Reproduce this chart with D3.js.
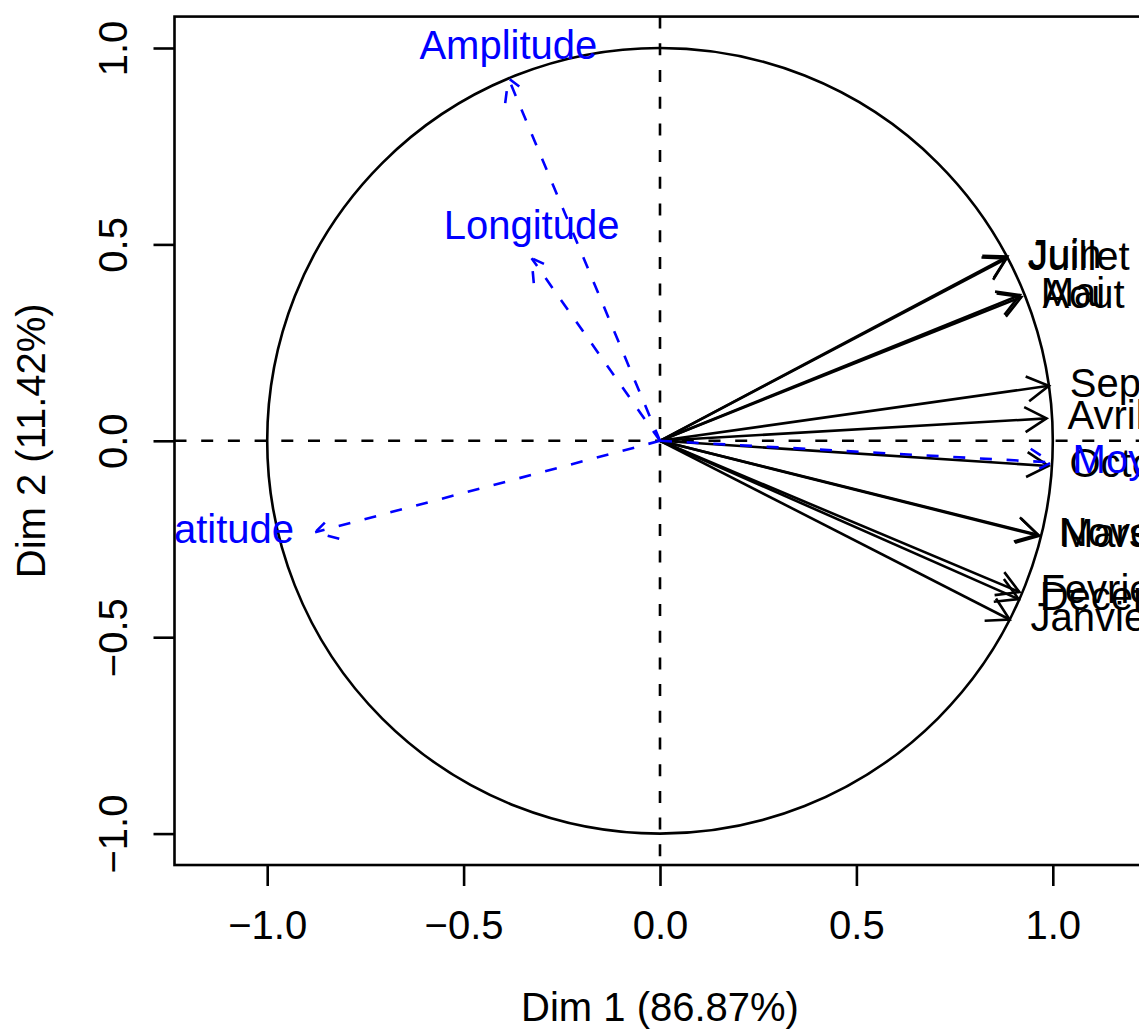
<!DOCTYPE html>
<html>
<head>
<meta charset="utf-8">
<script src="https://cdn.jsdelivr.net/npm/d3@7"></script>
<style>
  html, body { margin: 0; padding: 0; background: #fff; }
  svg { display: block; font-family: "Liberation Sans", Arial, Helvetica, sans-serif; }
</style>
</head>
<body>
<div id="chart"></div>
<script>
// Active variables (months), coordinates on Dim 1 / Dim 2
const monthNames = ['Janvier', 'Fevrier', 'Mars', 'Avril', 'Mai', 'Juin', 'Juillet',
  'Aout', 'Septembre', 'Octobre', 'Novembre', 'Decembre'];
const monthDim1 = [0.890, 0.915, 0.965, 0.984, 0.916, 0.884, 0.882, 0.920, 0.990, 0.989, 0.962, 0.913];
const monthDim2 = [-0.455, -0.385, -0.242, 0.057, 0.371, 0.469, 0.464, 0.366, 0.140, -0.064, -0.239, -0.403];

// Supplementary variables (drawn dashed, in blue)
const suppNames = ['Moyenne', 'Amplitude', 'Latitude', 'Longitude'];
const suppDim1 = [0.997, -0.386, -0.878, -0.327];
const suppDim2 = [-0.055, 0.923, -0.233, 0.465];
const suppLabelSide = ['right', 'above', 'left', 'above'];

const tickValues = [-1, -0.5, 0, 0.5, 1];
const xTitle = 'Dim 1 (86.87%)';
const yTitle = 'Dim 2 (11.42%)';

(function(){
  const width = 1139, height = 1030;
  const fontSize = 40;
  const lw = 2.6;
  const dash = '12 14.7';
  const headLen = 25;
  const labelGap = 21;

  // Same unit length on both axes (asp = 1)
  const x = d3.scaleLinear().domain([-1, 1]).range([267.2, 1052.8]);
  const y = d3.scaleLinear().domain([-1, 1]).range([833.6, 48.0]);
  const xlim = [-1.236, 1.236];
  const ylim = [-1.08, 1.08];

  const box = {
    left: x(xlim[0]), right: x(xlim[1]),
    top: y(ylim[1]), bottom: y(ylim[0])
  };

  const svg = d3.select('#chart').append('svg')
    .attr('width', width)
    .attr('height', height);

  svg.append('defs').append('clipPath').attr('id', 'plot-clip')
    .append('rect')
    .attr('x', box.left).attr('y', box.top)
    .attr('width', box.right - box.left).attr('height', box.bottom - box.top);

  const plot = svg.append('g').attr('clip-path', 'url(#plot-clip)');

  // Correlation circle
  plot.append('circle')
    .attr('cx', x(0)).attr('cy', y(0))
    .attr('r', x(1) - x(0))
    .attr('fill', 'none').attr('stroke', '#000').attr('stroke-width', lw);

  // Dashed reference lines through the origin
  plot.append('line')
    .attr('x1', box.left).attr('x2', box.right)
    .attr('y1', y(0)).attr('y2', y(0))
    .attr('stroke', '#000').attr('stroke-width', lw).attr('stroke-dasharray', dash);
  plot.append('line')
    .attr('x1', x(0)).attr('x2', x(0))
    .attr('y1', box.top).attr('y2', box.bottom)
    .attr('stroke', '#000').attr('stroke-width', lw).attr('stroke-dasharray', dash);

  const months = monthNames.map((name, i) => ({name, d1: monthDim1[i], d2: monthDim2[i], side: 'right'}));
  const supps = suppNames.map((name, i) => ({name, d1: suppDim1[i], d2: suppDim2[i], side: suppLabelSide[i]}));

  // Arrow head as R draws it: barb -> tip -> barb
  function headPath(d){
    const x0 = x(0), y0 = y(0), tx = x(d.d1), ty = y(d.d2);
    const ang = Math.atan2(ty - y0, tx - x0);
    const a1 = ang + Math.PI / 6, a2 = ang - Math.PI / 6;
    return `M${tx - headLen * Math.cos(a1)},${ty - headLen * Math.sin(a1)}L${tx},${ty}` +
      `L${tx - headLen * Math.cos(a2)},${ty - headLen * Math.sin(a2)}`;
  }

  function drawArrows(data, color, dashed){
    const g = plot.append('g')
      .attr('fill', 'none')
      .attr('stroke', color)
      .attr('stroke-width', lw)
      .attr('stroke-dasharray', dashed ? dash : null);
    g.selectAll('line').data(data).join('line')
      .attr('x1', x(0)).attr('y1', y(0))
      .attr('x2', d => x(d.d1)).attr('y2', d => y(d.d2));
    g.selectAll('path').data(data).join('path')
      .attr('d', headPath);
  }

  function drawLabels(data, color){
    plot.append('g').attr('fill', color).attr('font-size', fontSize)
      .selectAll('text').data(data).join('text')
      .attr('x', d => d.side === 'right' ? x(d.d1) + labelGap : d.side === 'left' ? x(d.d1) - labelGap : x(d.d1))
      .attr('y', d => d.side === 'above' ? y(d.d2) - 19 : y(d.d2) + 11)
      .attr('text-anchor', d => d.side === 'right' ? 'start' : d.side === 'left' ? 'end' : 'middle')
      .text(d => d.name);
  }

  drawArrows(months, '#000', false);
  drawLabels(months, '#000');
  drawArrows(supps, '#0000ff', true);
  drawLabels(supps, '#0000ff');

  // Plot frame
  svg.append('rect')
    .attr('x', box.left).attr('y', box.top)
    .attr('width', box.right - box.left).attr('height', box.bottom - box.top)
    .attr('fill', 'none').attr('stroke', '#000').attr('stroke-width', lw);

  const fmt = d3.format('.1f');

  const xAxis = svg.append('g')
    .attr('transform', `translate(0,${box.bottom})`)
    .call(d3.axisBottom(x).tickValues(tickValues).tickSize(21).tickFormat(fmt));
  const yAxis = svg.append('g')
    .attr('transform', `translate(${box.left},0)`)
    .call(d3.axisLeft(y).tickValues(tickValues).tickSize(21).tickFormat(fmt));

  [xAxis, yAxis].forEach(a => {
    a.select('.domain').remove();
    a.selectAll('line').attr('stroke', '#000').attr('stroke-width', lw);
    a.selectAll('text')
      .attr('font-family', '"Liberation Sans", Arial, Helvetica, sans-serif')
      .attr('font-size', fontSize).attr('fill', '#000');
  });

  xAxis.selectAll('text').attr('y', 74).attr('dy', null);
  yAxis.selectAll('text')
    .attr('transform', 'rotate(-90)')
    .attr('x', 0).attr('y', -(box.left - 127))
    .attr('dy', null)
    .attr('text-anchor', 'middle');

  // Axis titles
  svg.append('text')
    .attr('x', (box.left + box.right) / 2).attr('y', 1021)
    .attr('text-anchor', 'middle').attr('font-size', fontSize)
    .text(xTitle);
  svg.append('text')
    .attr('transform', `translate(45,${(box.top + box.bottom) / 2}) rotate(-90)`)
    .attr('text-anchor', 'middle').attr('font-size', fontSize)
    .text(yTitle);
})();
</script>
</body>
</html>
